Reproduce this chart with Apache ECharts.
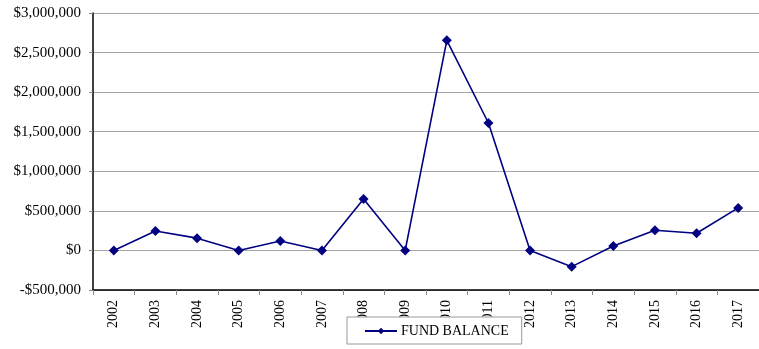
<!DOCTYPE html>
<html>
<head>
<meta charset="utf-8">
<script src="https://cdn.jsdelivr.net/npm/echarts@6/dist/echarts.min.js"></script>
<style>
  html, body { margin: 0; padding: 0; background: #fff; }
  #chart { width: 759px; height: 349px; }
</style>
</head>
<body>
<div id="chart"></div>
<script>
// Fiscal years shown along the bottom axis
const years = ['2002','2003','2004','2005','2006','2007','2008','2009',
               '2010','2011','2012','2013','2014','2015','2016','2017'];

// Year-end fund balance, in dollars
const fundBalance = [0, 245000, 155000, 0, 120000, 0, 650000, 0,
                     2655000, 1610000, 0, -205000, 56000, 255000, 217000, 537000];

const seriesName = 'FUND BALANCE';

const serif = '"Liberation Serif", "Times New Roman", serif';

function money(v) {
  const abs = Math.abs(v).toLocaleString('en-US');
  return (v < 0 ? '-$' : '$') + abs;
}

const chart = echarts.init(document.getElementById('chart'));
chart.setOption({
  animation: false,
  backgroundColor: '#fff',
  grid: { left: 93, right: 0, top: 13, bottom: 59 },
  legend: {
    data: [{ name: seriesName, itemStyle: { borderWidth: 0 } }],
    top: 317,
    left: 347,
    z: 10,
    padding: [7, 13, 6, 17],
    itemWidth: 32,
    itemHeight: 8,
    itemGap: 4,
    backgroundColor: '#fff',
    borderColor: '#999',
    borderWidth: 1,
    borderRadius: 0,
    textStyle: { fontFamily: serif, fontSize: 14, color: '#000', padding: [0, 0, 0, -1] }
  },
  xAxis: {
    type: 'category',
    data: years,
    boundaryGap: true,
    axisLine: { onZero: false, lineStyle: { color: '#000', width: 1.5 } },
    axisTick: { show: true, length: 5, lineStyle: { color: '#888' } },
    axisLabel: {
      rotate: 90, margin: 10, fontFamily: serif, fontSize: 14, color: '#000'
    },
    splitLine: { show: false }
  },
  yAxis: {
    type: 'value',
    min: -500000,
    max: 3000000,
    interval: 500000,
    axisLine: { show: true, lineStyle: { color: '#000', width: 1.5 } },
    axisTick: { show: true, length: 4, lineStyle: { color: '#888' } },
    axisLabel: {
      formatter: money, margin: 12, fontFamily: serif, fontSize: 15, color: '#000'
    },
    splitLine: { show: true, lineStyle: { color: '#a6a6a6', width: 1 } }
  },
  series: [{
    name: seriesName,
    type: 'line',
    data: fundBalance,
    symbol: 'diamond',
    symbolSize: 10,
    showAllSymbol: true,
    lineStyle: { color: '#000080', width: 1.6 },
    itemStyle: { color: '#000080' }
  }]
});
</script>
</body>
</html>
